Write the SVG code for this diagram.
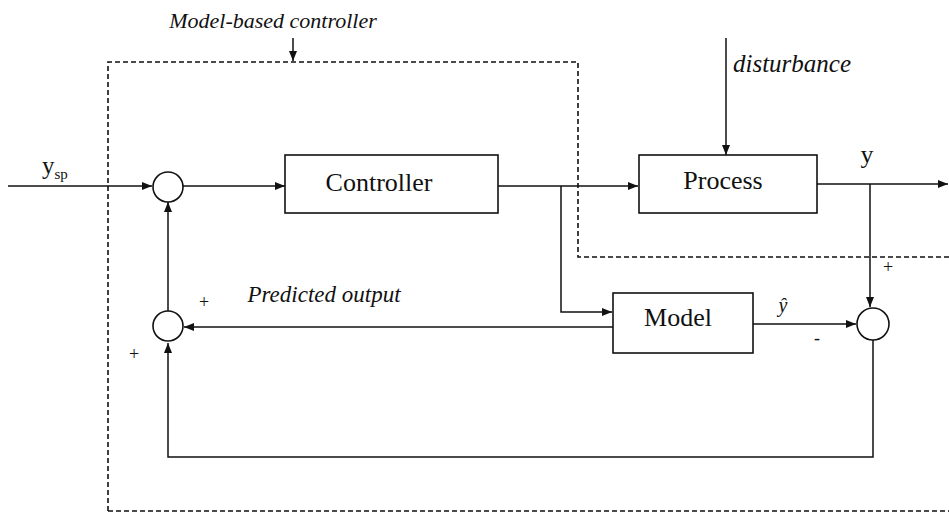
<svg xmlns="http://www.w3.org/2000/svg" width="949" height="515" viewBox="0 0 949 515">
<style>
.bg{fill:#fff}
.box{fill:#fff;stroke:#111;stroke-width:1.6}
.sum{fill:#fff;stroke:#111;stroke-width:1.6}
.ln{fill:none;stroke:#111;stroke-width:1.5}
.dash{fill:none;stroke:#111;stroke-width:1.6;stroke-dasharray:5,3}
text{font-family:'Liberation Serif','DejaVu Serif',serif;fill:#111}
.it{font-style:italic}
</style>
<defs>
<marker id="ah" viewBox="0 0 10 8" refX="10" refY="4" markerWidth="10" markerHeight="8" markerUnits="userSpaceOnUse" orient="auto">
<path d="M0,0 L10,4 L0,8 Z" fill="#111"/>
</marker>
</defs>
<rect class="bg" width="949" height="515"/>
<g id="mbc-boundary">
<path class="dash" d="M108,511 L108,62 L578,62 L578,257 L949,257"/>
<path class="dash" d="M108,511 L949,511"/>
<text class="it" x="273" y="28" font-size="22" text-anchor="middle">Model-based controller</text>
</g>
<g id="connectors">
<path class="ln" d="M293,38 L293,61" marker-end="url(#ah)"/>
<path class="ln" d="M8,186 L152,186" marker-end="url(#ah)"/>
<path class="ln" d="M183,186 L285,186" marker-end="url(#ah)"/>
<path class="ln" d="M498,186 L638,186" marker-end="url(#ah)"/>
<path class="ln" d="M561,186 L561,312 L612,312" marker-end="url(#ah)"/>
<path class="ln" d="M726,38 L726,155" marker-end="url(#ah)"/>
<path class="ln" d="M817,184 L948,184" marker-end="url(#ah)"/>
<path class="ln" d="M870,184 L870,307" marker-end="url(#ah)"/>
<path class="ln" d="M753,324 L856,324" marker-end="url(#ah)"/>
<path class="ln" d="M613,327 L184,327" marker-end="url(#ah)"/>
<path class="ln" d="M873,340 L873,457 L168,457 L168,343" marker-end="url(#ah)"/>
<path class="ln" d="M168,311 L168,202" marker-end="url(#ah)"/>
</g>
<g id="sum1"><circle class="sum" cx="168" cy="187" r="15"/></g>
<g id="sum2"><circle class="sum" cx="168" cy="326" r="15"/></g>
<g id="sum3"><circle class="sum" cx="873" cy="324" r="16"/></g>
<g id="controller">
<rect class="box" x="285" y="155" width="213" height="58"/>
<text x="379" y="191" font-size="26" text-anchor="middle">Controller</text>
</g>
<g id="process">
<rect class="box" x="639" y="155" width="178" height="58"/>
<text x="723" y="189" font-size="26" text-anchor="middle">Process</text>
</g>
<g id="model">
<rect class="box" x="613" y="293" width="140" height="60"/>
<text x="678" y="326" font-size="26" text-anchor="middle">Model</text>
</g>
<g id="labels">
<text x="42" y="174" font-size="25">y<tspan font-size="15" dy="5">sp</tspan></text>
<text class="it" x="733" y="72" font-size="25">disturbance</text>
<text x="867" y="163" font-size="26" text-anchor="middle">y</text>
<text class="it" x="783" y="312" font-size="20" text-anchor="middle">ŷ</text>
<text class="it" x="324" y="302" font-size="23" text-anchor="middle">Predicted output</text>
<text x="204" y="308" font-size="18" text-anchor="middle">+</text>
<text x="134" y="360" font-size="18" text-anchor="middle">+</text>
<text x="888" y="273" font-size="18" text-anchor="middle">+</text>
<text x="817" y="344" font-size="18" text-anchor="middle">-</text>
</g>
</svg>
